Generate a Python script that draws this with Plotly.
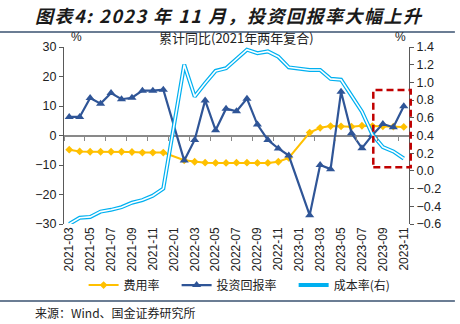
import plotly.graph_objects as go

# Monthly axis: 2021-03 .. 2023-11 (January figures are not published separately)
months = [f"{y}-{m:02d}" for y, m in
          [(2021, m) for m in range(3, 13)] + [(2022, m) for m in range(1, 13)] + [(2023, m) for m in range(1, 12)]]

# 费用率 (left axis, %)
expense_rate = [-4.8, -5.4, -5.5, -5.5, -5.5, -5.5, -5.6, -5.8, -5.8, -5.8,
                None, -8.4, -8.9, -9.2, -9.3, -9.3, -9.2, -9.2, -9.3, -9.3, -8.9, -7.6,
                None, 1.0, 2.6, 3.2, 3.1, 3.0, 3.3, 3.2, 3.1, 3.0, 2.9]

# 投资回报率 (left axis, %)
investment_return = [6.3, 6.3, 12.7, 10.8, 14.4, 12.3, 12.8, 15.2, 15.2, 15.5,
                     None, -8.5, -1.5, 11.9, 1.8, 9.1, 8.2, 12.5, 3.7, -1.5, -4.4, -6.8,
                     None, -27.0, -10.0, -11.4, 14.8, 0.8, -4.3, 0.2, 3.9, 2.8, 9.9]

# 成本率 (right axis, %)
cost_rate = [-0.60, -0.53, -0.52, -0.46, -0.44, -0.41, -0.36, -0.33, -0.28, -0.20,
             None, 1.20, 0.84, 0.99, 1.13, 1.16, 1.27, 1.37, 1.33, 1.35, 1.29, 1.17,
             None, 1.14, 1.14, 1.04, 1.03, 0.85, 0.67, 0.41, 0.27, 0.22, 0.14]

YELLOW = "#FFC000"
BLUE = "#2F5597"
CYAN = "#00B0F0"
RED = "#C00000"
TXT = "#222222"
NUM_FONT = "Arial, Liberation Sans, sans-serif"
CJK_FONT = "Noto Sans CJK SC, sans-serif"
PAD = "\u2003"  # trailing em space widens the legend entries

fig = go.Figure()

# cost rate drawn as a double line: wide cyan with a white core
fig.add_trace(go.Scatter(x=months, y=cost_rate, name="成本率(右)", yaxis="y2",
                         mode="lines", connectgaps=True, legendrank=3,
                         line=dict(color=CYAN, width=4)))
fig.add_trace(go.Scatter(x=months, y=cost_rate, yaxis="y2", showlegend=False,
                         mode="lines", connectgaps=True, hoverinfo="skip",
                         line=dict(color="white", width=1.6)))

fig.add_trace(go.Scatter(x=months, y=expense_rate, name="费用率" + PAD,
                         mode="lines+markers", connectgaps=True, legendrank=1,
                         line=dict(color=YELLOW, width=2),
                         marker=dict(symbol="diamond", size=6, color=YELLOW)))
fig.add_trace(go.Scatter(x=months, y=investment_return, name="投资回报率" + PAD,
                         mode="lines+markers", connectgaps=True, legendrank=2,
                         line=dict(color=BLUE, width=2.2),
                         marker=dict(symbol="triangle-up", size=8, color=BLUE)))

# empty trace that carries the tick-only axis along the zero line
fig.add_trace(go.Scatter(x=months, y=[None] * len(months), xaxis="x2",
                         showlegend=False, hoverinfo="skip", mode="lines"))

ann = [
    dict(text="<span style='letter-spacing:1.5px'><b><i>图表4: 2023 年 11 月，投资回报率大幅上升</i></b></span>",
         x=-0.09, y=1.181, xanchor="left", yanchor="middle",
         font=dict(size=18, color="#1a1a1a", family=CJK_FONT)),
    dict(text="累计同比(2021年两年复合)", x=0.5, y=1.054, xanchor="center", yanchor="middle",
         font=dict(size=13, color=TXT, family=CJK_FONT)),
    dict(text="%", x=0.035, y=1.054, xanchor="center", yanchor="middle",
         font=dict(size=12, color=TXT, family=NUM_FONT)),
    dict(text="%", x=0.974, y=1.054, xanchor="center", yanchor="middle",
         font=dict(size=12, color=TXT, family=NUM_FONT)),
    dict(text="来源：Wind、国金证券研究所", x=-0.09, y=-0.50, xanchor="left", yanchor="middle",
         font=dict(size=12, color=TXT, family=CJK_FONT)),
]
for a in ann:
    a.update(xref="paper", yref="paper", showarrow=False)

shapes = [
    # rule under the title and above the source line
    dict(type="line", xref="paper", yref="paper", x0=-0.186, x1=1.133, y0=1.085, y1=1.085,
         line=dict(color="#3A5270", width=1.5)),
    dict(type="line", xref="paper", yref="paper", x0=-0.186, x1=1.133, y0=-0.435, y1=-0.435,
         line=dict(color="#3A5270", width=1.5)),
    # highlight box around the latest months
    dict(type="rect", xref="paper", yref="paper", x0=0.8965, x1=1.005, y0=0.320, y1=0.757,
         line=dict(color=RED, width=2.5, dash="7px,4px"), fillcolor="rgba(0,0,0,0)"),
]

fig.update_layout(
    width=460, height=324,
    margin=dict(l=64, r=51, t=47, b=100),
    paper_bgcolor="white", plot_bgcolor="white",
    font=dict(family=NUM_FONT, size=12, color=TXT),
    showlegend=True,
    legend=dict(orientation="h", x=0.509, xanchor="center", y=-0.345, yanchor="middle",
                font=dict(size=12, family=CJK_FONT, color=TXT),
                bgcolor="rgba(0,0,0,0)", itemwidth=30, tracegroupgap=0),
    xaxis=dict(type="category", categoryorder="array", categoryarray=months,
               range=[-0.5, 32.5], dtick=2, tick0=0, tickangle=-90,
               showline=False, ticks="", showgrid=False, zeroline=False,
               tickfont=dict(size=12, family=NUM_FONT, color=TXT)),
    xaxis2=dict(type="category", categoryorder="array", categoryarray=months,
                overlaying="x", anchor="free", position=0.5,
                range=[-0.5, 32.5], dtick=2, tick0=0, tickson="boundaries",
                ticks="outside", ticklen=4, tickcolor="#898989", tickwidth=1,
                showline=False, showticklabels=False, showgrid=False, zeroline=False),
    yaxis=dict(range=[-30, 30], dtick=10, showgrid=False,
               zeroline=True, zerolinecolor="#898989", zerolinewidth=1.5,
               showline=True, linecolor="#595959", linewidth=1,
               ticks="outside", ticklen=4, tickcolor="#595959",
               tickfont=dict(size=12.5, family=NUM_FONT, color=TXT)),
    yaxis2=dict(range=[-0.6, 1.4], dtick=0.2, tickformat=".1f", overlaying="y", side="right",
                showgrid=False, zeroline=False,
                showline=True, linecolor="#595959", linewidth=1,
                ticks="outside", ticklen=4, tickcolor="#595959",
                tickfont=dict(size=12.5, family=NUM_FONT, color=TXT)),
    annotations=ann,
    shapes=shapes,
)

fig.write_html("out.html")
